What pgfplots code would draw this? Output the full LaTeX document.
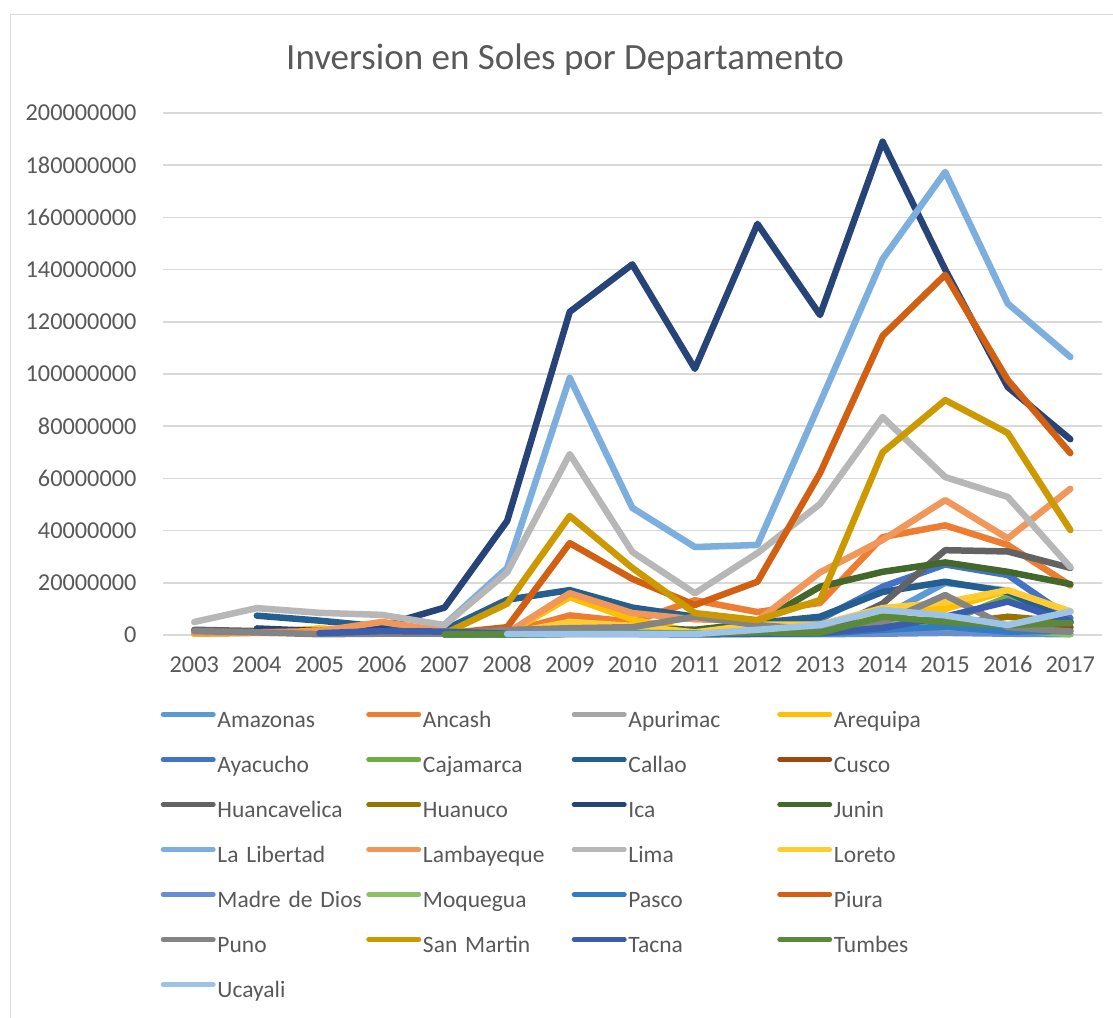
\documentclass[border=0pt]{standalone}
\usepackage{fontspec}
\setmainfont{Carlito}
\usepackage{pgfplots}
\usepackage{pgfplotstable}
\pgfplotsset{compat=1.18}

\definecolor{txt}{HTML}{595959}
\definecolor{grd}{HTML}{D9D9D9}
\definecolor{cAm}{HTML}{5B9BD5}
\definecolor{cAn}{HTML}{ED7D31}
\definecolor{cAp}{HTML}{A5A5A5}
\definecolor{cAr}{HTML}{FFC000}
\definecolor{cAy}{HTML}{4472C4}
\definecolor{cCa}{HTML}{70AD47}
\definecolor{cCl}{HTML}{255E91}
\definecolor{cCu}{HTML}{9E480E}
\definecolor{cHv}{HTML}{636363}
\definecolor{cHn}{HTML}{997300}
\definecolor{cIc}{HTML}{264478}
\definecolor{cJu}{HTML}{43682B}
\definecolor{cLL}{HTML}{7CAFDD}
\definecolor{cLa}{HTML}{F1975A}
\definecolor{cLi}{HTML}{B7B7B7}
\definecolor{cLo}{HTML}{FFCD33}
\definecolor{cMD}{HTML}{698ED0}
\definecolor{cMo}{HTML}{8CC168}
\definecolor{cPa}{HTML}{327DC2}
\definecolor{cPi}{HTML}{D26012}
\definecolor{cPu}{HTML}{848484}
\definecolor{cSM}{HTML}{CC9A00}
\definecolor{cTa}{HTML}{3A5DAE}
\definecolor{cTu}{HTML}{5A8A39}
\definecolor{cUc}{HTML}{9DC3E6}

% values in millions of soles
\pgfplotstableread{
Year Am   An   Ap  Ar   Ay   Ca   Cl   Cu  Hv   Hn  Ic    Ju   LL    La   Li   Lo   MD  Mo  Pa  Pi    Pu   SM   Ta   Tu  Uc
2003 nan  0.5  nan 0.5  nan  nan  nan  nan 2.0  nan nan   nan  nan   0.7  5.0  nan  nan nan nan nan   1.5  nan  nan  nan nan
2004 nan  0.8  nan 1.0  nan  nan  7.4  nan 1.5  nan 2.5   nan  nan   1.0  10.3 nan  nan nan nan nan   1.0  nan  nan  nan nan
2005 nan  1.0  nan 2.5  nan  nan  5.5  nan 1.0  nan 1.5   nan  nan   1.5  8.5  nan  nan nan nan nan   0.3  nan  0.7  nan nan
2006 nan  1.2  nan 1.5  nan  nan  3.2  nan 1.0  nan 3.5   nan  nan   5.0  7.7  nan  nan nan nan nan   0.5  nan  1.5  nan nan
2007 0.5  0.8  0.5 1.0  0.5  0.3  2.0  0.5 0.5  0.3 10.5  0.5  4.0   1.5  3.8  0.5  0.2 0.2 0.2 0.5   0.5  0.5  1.3  0.2 nan
2008 0.5  1.0  0.5 0.5  0.3  0.3  13.5 1.0 0.5  0.5 43.7  1.0  25.7  0.8  24.0 0.5  0.2 0.3 0.2 3.0   1.9  12.0 0.5  0.2 0.4
2009 1.0  7.5  2.0 14.5 0.5  1.0  17.2 1.5 1.0  1.0 123.8 2.5  98.5  16.0 69.3 5.0  0.3 1.5 0.5 35.2  2.6  45.6 0.5  0.5 0.4
2010 1.0  5.0  1.5 6.0  0.5  1.0  10.5 1.0 1.0  1.0 142.0 2.6  48.7  8.4  31.8 3.5  0.3 1.0 0.5 21.5  3.0  25.7 0.5  0.5 0.4
2011 0.5  13.3 1.0 1.0  0.5  0.5  7.0  0.5 1.0  0.5 102.0 2.0  33.7  6.0  16.0 1.0  0.3 0.5 0.3 11.5  7.0  8.4  0.3  0.5 0.4
2012 1.5  8.8  1.5 5.0  1.0  1.0  4.6  1.0 0.5  1.0 157.5 4.6  34.5  5.5  31.4 4.0  0.3 1.0 0.5 20.4  3.8  5.7  0.5  1.0 2.0
2013 2.0  12.3 1.5 3.0  6.0  1.5  7.0  1.0 0.5  1.0 122.6 18.5 89.0  24.0 50.2 4.0  0.3 1.0 0.5 62.0  2.0  13.4 0.8  0.8 3.8
2014 7.0  37.5 3.0 9.0  18.5 4.0  16.5 3.5 12.0 2.0 189.0 24.2 144.0 36.4 83.5 10.3 0.5 5.7 2.0 114.6 4.6  70.0 2.7  7.0 9.6
2015 20.0 42.0 4.0 10.0 27.0 5.0  20.4 4.0 32.5 4.0 140.0 27.8 177.4 51.7 60.5 12.5 0.8 3.0 3.2 138.0 15.3 90.0 7.0  5.0 7.5
2016 17.0 34.5 2.5 17.0 23.0 14.5 16.5 2.0 32.0 7.0 95.0  24.2 127.0 37.0 52.9 17.2 0.5 2.0 1.3 97.7  3.0  77.4 12.8 3.8 3.8
2017 5.0  19.0 2.0 9.0  6.5  3.0  5.0  3.0 25.7 5.0 75.0  19.5 106.5 56.0 26.0 9.0  0.3 0.3 1.5 69.7  1.3  40.2 5.0  4.6 9.0
}\data

\begin{document}
\begin{tikzpicture}[x=1bp,y=1bp]
\useasboundingbox (0,0) rectangle (1113,1018);
\fill[white] (0,0) rectangle (1113,1018);
\draw[grd, line width=1.5bp] (10.5,-10) -- (10.5,1003.5) -- (1130,1003.5);
\node[anchor=base, text=txt, font=\fontsize{37bp}{44bp}\selectfont] at (565,948) {Inversion en Soles por Departamento};
\begin{axis}[
  at={(163bp,383bp)}, anchor=south west,
  scale only axis, width=938.6bp, height=522bp,
  xmin=2002.5, xmax=2017.5, ymin=0, ymax=200,
  clip=false, unbounded coords=jump,
  xtick={2003,2004,...,2017},
  xticklabels={2003,2004,2005,2006,2007,2008,2009,2010,2011,2012,2013,2014,2015,2016,2017},
  ytick={0,20,...,200},
  yticklabels={0,20000000,40000000,60000000,80000000,100000000,120000000,140000000,160000000,180000000,200000000},
  ymajorgrids, major grid style={grd, line width=1.5bp},
  axis line style={draw=none}, major tick length=0pt,
  tick label style={text=txt, font=\fontsize{24.3bp}{29bp}\selectfont},
  yticklabel style={xshift=-23bp},
  xticklabel style={anchor=base, yshift=-37.5bp},
  every axis plot/.append style={line width=6.5bp, line join=round, line cap=round},
  legend columns=4,
  legend style={at={(-0.0032,-0.1456)}, anchor=north west, draw=none, fill=none,
    inner sep=0pt, outer sep=0pt, row sep=24bp, column sep=0pt,
    text=txt, font=\fontsize{23.5bp}{28bp}\selectfont,
    nodes={inner sep=0pt, text height=16bp, text depth=5bp, text width=148bp, align=left}},
  legend image code/.code={\draw[#1, line width=5bp, line cap=round] (0bp,7bp) -- (50bp,7bp); \path (0bp,0bp) (51bp,0bp);},
]
\addplot[cAm] table[x=Year,y=Am]{\data}; \addlegendentry{Amazonas}
\addplot[cAn] table[x=Year,y=An]{\data}; \addlegendentry{Ancash}
\addplot[cAp] table[x=Year,y=Ap]{\data}; \addlegendentry{Apurimac}
\addplot[cAr] table[x=Year,y=Ar]{\data}; \addlegendentry{Arequipa}
\addplot[cAy] table[x=Year,y=Ay]{\data}; \addlegendentry{Ayacucho}
\addplot[cCa] table[x=Year,y=Ca]{\data}; \addlegendentry{Cajamarca}
\addplot[cCl] table[x=Year,y=Cl]{\data}; \addlegendentry{Callao}
\addplot[cCu] table[x=Year,y=Cu]{\data}; \addlegendentry{Cusco}
\addplot[cHv] table[x=Year,y=Hv]{\data}; \addlegendentry{Huancavelica}
\addplot[cHn] table[x=Year,y=Hn]{\data}; \addlegendentry{Huanuco}
\addplot[cIc] table[x=Year,y=Ic]{\data}; \addlegendentry{Ica}
\addplot[cJu] table[x=Year,y=Ju]{\data}; \addlegendentry{Junin}
\addplot[cLL] table[x=Year,y=LL]{\data}; \addlegendentry{La Libertad}
\addplot[cLa] table[x=Year,y=La]{\data}; \addlegendentry{Lambayeque}
\addplot[cLi] table[x=Year,y=Li]{\data}; \addlegendentry{Lima}
\addplot[cLo] table[x=Year,y=Lo]{\data}; \addlegendentry{Loreto}
\addplot[cMD] table[x=Year,y=MD]{\data}; \addlegendentry{Madre de Dios}
\addplot[cMo] table[x=Year,y=Mo]{\data}; \addlegendentry{Moquegua}
\addplot[cPa] table[x=Year,y=Pa]{\data}; \addlegendentry{Pasco}
\addplot[cPi] table[x=Year,y=Pi]{\data}; \addlegendentry{Piura}
\addplot[cPu] table[x=Year,y=Pu]{\data}; \addlegendentry{Puno}
\addplot[cSM] table[x=Year,y=SM]{\data}; \addlegendentry{San Martin}
\addplot[cTa] table[x=Year,y=Ta]{\data}; \addlegendentry{Tacna}
\addplot[cTu] table[x=Year,y=Tu]{\data}; \addlegendentry{Tumbes}
\addplot[cUc] table[x=Year,y=Uc]{\data}; \addlegendentry{Ucayali}
\end{axis}
\end{tikzpicture}
\end{document}
